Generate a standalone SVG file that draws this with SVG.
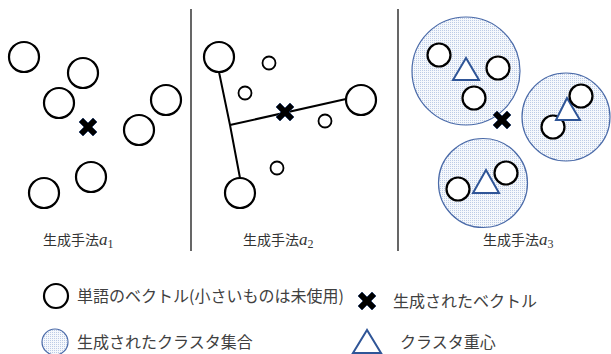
<svg xmlns="http://www.w3.org/2000/svg" width="611" height="354" viewBox="0 0 611 354">
<style>
.v{fill:#fff;stroke:#000;stroke-width:2.2}
.s{fill:#fff;stroke:#000;stroke-width:1.8}
.cl{fill:url(#dots);stroke:#4a6aa8;stroke-width:1.2}
.tri{fill:#fff;stroke:#2f5597;stroke-width:2;stroke-linejoin:miter}
.x{fill:#000;stroke:#1f3864;stroke-width:0.8;stroke-linejoin:round}
.div{stroke:#404040;stroke-width:1.6}
.edge{stroke:#000;stroke-width:2;fill:none}
.lab{font-family:"Noto Sans CJK JP",sans-serif;font-size:14px;fill:#333}
.it{font-family:"Liberation Serif",serif;font-style:italic;font-size:17px}
.sub{font-family:"Liberation Serif",serif;font-size:12px}
.leg{font-family:"Noto Sans CJK JP",sans-serif;font-size:16px;fill:#404040}
</style>
<defs>
<pattern id="dots" width="2" height="2" patternUnits="userSpaceOnUse">
<rect width="2" height="2" fill="#f5f8fc"/>
<rect width="1" height="1" fill="#bccbe6"/>
</pattern>
<path id="xm" class="x" d="M-9,-5 L-5,-9 L0,-4 L5,-9 L9,-5 L4,0 L9,5 L5,9 L0,4 L-5,9 L-9,5 L-4,0 Z"/>
</defs>
<rect width="611" height="354" fill="#fff"/>
<g id="dividers">
<line class="div" x1="191" y1="9" x2="191" y2="251"/>
<line class="div" x1="398" y1="9" x2="398" y2="251"/>
</g>
<g id="connectors">
<polyline class="edge" points="219,72 230,125 240,178"/>
<line class="edge" x1="230" y1="125" x2="346" y2="99"/>
</g>
<g id="panel1">
<circle class="v" cx="24" cy="57" r="15"/>
<circle class="v" cx="83" cy="73" r="15"/>
<circle class="v" cx="59" cy="103" r="15"/>
<circle class="v" cx="166" cy="100" r="15"/>
<circle class="v" cx="139" cy="130" r="15"/>
<circle class="v" cx="91" cy="177" r="15"/>
<circle class="v" cx="44" cy="193" r="15"/>
<use href="#xm" x="88" y="127"/>
<text class="lab" x="43" y="245">生成手法<tspan class="it">a</tspan><tspan class="sub" dy="3">1</tspan></text>
</g>
<g id="panel2">
<circle class="v" cx="219" cy="57" r="15"/>
<circle class="s" cx="269" cy="63" r="6.5"/>
<circle class="s" cx="245" cy="93" r="6.5"/>
<circle class="v" cx="361" cy="100" r="15"/>
<circle class="s" cx="325" cy="121" r="6.5"/>
<circle class="s" cx="277" cy="168" r="6.5"/>
<circle class="v" cx="240" cy="193" r="15"/>
<use href="#xm" x="285" y="112"/>
<text class="lab" x="243" y="245">生成手法<tspan class="it">a</tspan><tspan class="sub" dy="3">2</tspan></text>
</g>
<g id="panel3">
<g id="cluster1">
<circle class="cl" cx="466" cy="71" r="54"/>
<circle class="v" cx="439" cy="55" r="11.5"/>
<polygon class="tri" points="466,58 453,80 479,80"/>
<circle class="v" cx="498" cy="68" r="11.5"/>
<circle class="v" cx="474" cy="98" r="11.5"/>
</g>
<g id="cluster2">
<circle class="cl" cx="566" cy="117" r="44"/>
<circle class="v" cx="553" cy="127" r="11.5"/>
<polygon class="tri" points="567,98 556,120 580,120"/>
<circle class="v" cx="581" cy="96" r="11.5"/>
</g>
<g id="cluster3">
<circle class="cl" cx="483" cy="183" r="44.5"/>
<circle class="v" cx="458" cy="189" r="11.5"/>
<polygon class="tri" points="486,170 473,193 499,193"/>
<circle class="v" cx="506" cy="173" r="11.5"/>
</g>
<use href="#xm" x="502" y="120"/>
<text class="lab" x="483" y="245">生成手法<tspan class="it">a</tspan><tspan class="sub" dy="3">3</tspan></text>
</g>
<g id="legend">
<circle class="v" cx="56" cy="296" r="12"/>
<text class="leg" x="77" y="302">単語のベクトル(小さいものは未使用)</text>
<use href="#xm" x="367" y="301"/>
<text class="leg" x="393" y="307">生成されたベクトル</text>
<circle class="cl" cx="55" cy="342" r="13"/>
<text class="leg" x="77" y="348">生成されたクラスタ集合</text>
<polygon class="tri" points="367,330 353,353 381,353"/>
<text class="leg" x="400" y="348">クラスタ重心</text>
</g>
</svg>
